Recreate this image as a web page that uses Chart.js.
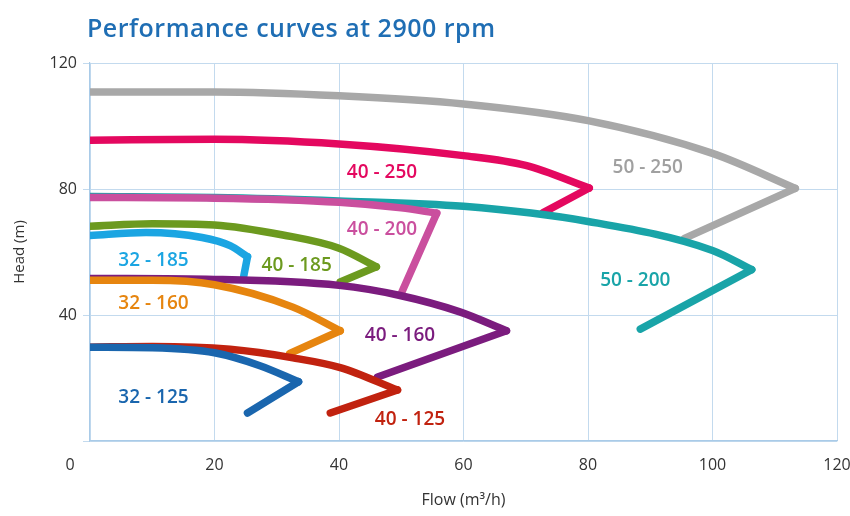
<!DOCTYPE html>
<html>
<head>
<meta charset="utf-8">
<script src="https://cdn.jsdelivr.net/npm/chart.js@4.4.1/dist/chart.umd.min.js"></script>
<style>
  html, body { margin: 0; padding: 0; background: #ffffff; }
  #wrap { width: 850px; height: 516px; position: relative; }
</style>
</head>
<body>
<div id="wrap"><canvas id="c" width="850" height="516"></canvas></div>
<script>
// ---------- DATA (flow m3/h, head m) ----------
const titleText = 'Performance curves at 2900 rpm';
const flowTicks = [0, 20, 40, 60, 80, 100, 120];
const headTicks = [0, 40, 80, 120];

const pumpNames = ['32 - 125', '40 - 125', '32 - 160', '40 - 160', '32 - 185',
                   '40 - 185', '40 - 200', '50 - 200', '40 - 250', '50 - 250'];

// main curve (rising flow) for each pump
const curve32_125 = [[0, 29.8], [10, 29.6], [20, 28.0], [27.3, 23.9], [33.5, 18.8]];
const curve40_125 = [[0, 29.8], [10, 30.0], [22.5, 29.1], [32.6, 26.4], [40.2, 23.3], [49.4, 16.2]];
const curve32_160 = [[0, 51.0], [10, 51.0], [20, 49.6], [32.6, 42.5], [40.2, 35.0]];
const curve40_160 = [[0, 51.6], [20, 51.3], [40, 49.4], [49.8, 46.2], [59.4, 41.0], [66.9, 35.0]];
const curve32_185 = [[0, 65.2], [9, 66.2], [18, 64.6], [22.5, 62.0], [25.3, 58.5]];
const curve40_185 = [[0, 68.2], [10, 69.0], [20, 68.6], [31, 65.4], [40, 61.2], [46, 55.3]];
const curve40_200 = [[0, 77.3], [20, 77.1], [40, 75.8], [50, 74.0], [55.7, 72.3]];
const curve50_200 = [[0, 77.6], [20, 77.3], [40, 76.2], [60, 74.5], [80, 69.7], [100, 60.5], [106.3, 54.4]];
const curve40_250 = [[0, 95.5], [20, 95.8], [40, 94.3], [60, 90.6], [70, 87.5], [80.2, 80.3]];
const curve50_250 = [[0, 110.8], [20, 110.8], [40, 109.6], [60, 107.0], [80, 101.7], [100, 91.3], [113.3, 80.2]];

// straight return leg from the tip of each curve
const return32_125 = [[33.5, 18.8], [25.3, 8.9]];
const return40_125 = [[49.4, 16.2], [38.6, 8.9]];
const return32_160 = [[40.2, 35.0], [32.1, 27.8]];
const return40_160 = [[66.9, 35.0], [46.2, 20.3]];
const return32_185 = [[25.3, 58.5], [24.7, 52.4]];
const return40_185 = [[46, 55.3], [40.2, 50.5]];
const return40_200 = [[55.7, 72.3], [50.1, 47.3]];
const return50_200 = [[106.3, 54.4], [88.4, 35.5]];
const return40_250 = [[80.2, 80.3], [72.8, 72.5]];
const return50_250 = [[113.3, 80.2], [95.5, 64.3]];

// label anchor for each pump name (flow, head)
const labelFlow = [10.2, 51.4, 10.2, 49.8, 10.2, 33.2, 46.9, 87.6, 46.9, 89.6];
const labelHead = [13.7, 6.7, 43.5, 33.4, 57.4, 55.8, 67.0, 51.0, 85.1, 86.7];

// ---------- STYLE ----------
const pumpColors = ['#1a66ae', '#c1220f', '#e6850f', '#7b1c7e', '#1ba5e2',
                    '#6c9a1f', '#ca4f9e', '#19a4a8', '#e4085f', '#a8a8a8'];
const labelColors = ['#1a66ae', '#c1220f', '#e6850f', '#7b1c7e', '#1ba5e2',
                     '#6c9a1f', '#ca4f9e', '#19a4a8', '#e4085f', '#a0a0a0'];
const curves = [curve32_125, curve40_125, curve32_160, curve40_160, curve32_185,
                curve40_185, curve40_200, curve50_200, curve40_250, curve50_250];
const returns = [return32_125, return40_125, return32_160, return40_160, return32_185,
                 return40_185, return40_200, return50_200, return40_250, return50_250];

const toXY = arr => arr.map(p => ({ x: p[0], y: p[1] }));
const datasets = [];
pumpNames.forEach((name, i) => {
  const common = {
    showLine: true, pointRadius: 0, pointHoverRadius: 0,
    borderColor: pumpColors[i], backgroundColor: pumpColors[i],
    borderWidth: 7.5, borderCapStyle: 'round', borderJoinStyle: 'round',
    order: i, fill: false
  };
  datasets.push(Object.assign({ label: name, data: toXY(curves[i]), cubicInterpolationMode: 'monotone' }, common));
  datasets.push(Object.assign({ label: name + ' return', data: toXY(returns[i]), tension: 0 }, common));
});

const gridColor = '#c3daee';
const axisColor = '#a9cbe8';

const extrasPlugin = {
  id: 'extras',
  afterDatasetsDraw(chart) {
    const { ctx, scales: { x, y } } = chart;
    ctx.save();
    ctx.font = '600 19px "Open Sans"';
    ctx.textAlign = 'center';
    ctx.textBaseline = 'middle';
    pumpNames.forEach((n, i) => {
      ctx.fillStyle = labelColors[i];
      ctx.fillText(n, x.getPixelForValue(labelFlow[i]), y.getPixelForValue(labelHead[i]));
    });
    ctx.restore();
  },
  afterDraw(chart) {
    const { ctx, scales: { x }, chartArea } = chart;
    ctx.save();
    ctx.font = '600 25px "Open Sans"';
    try { ctx.letterSpacing = '0.5px'; } catch (e) {}
    ctx.fillStyle = '#1f6eb4';
    ctx.textAlign = 'left';
    ctx.textBaseline = 'alphabetic';
    ctx.fillText(titleText, chartArea.left - 3, 37);
    try { ctx.letterSpacing = '0px'; } catch (e) {}
    // shared origin label
    ctx.font = '16px "Open Sans"';
    ctx.fillStyle = '#333333';
    ctx.textAlign = 'center';
    ctx.textBaseline = 'middle';
    ctx.fillText(String(flowTicks[0]), x.getPixelForValue(flowTicks[0]) - 20, chartArea.bottom + 24);
    ctx.restore();
  }
};

Chart.defaults.font.family = '"Open Sans", sans-serif';
Chart.defaults.color = '#333333';

new Chart(document.getElementById('c'), {
  type: 'scatter',
  data: { datasets },
  options: {
    responsive: false,
    animation: false,
    layout: { padding: { top: 63, right: 13, bottom: 0, left: 0 } },
    plugins: { legend: { display: false }, tooltip: { enabled: false }, title: { display: false } },
    scales: {
      x: {
        type: 'linear', min: flowTicks[0], max: flowTicks[flowTicks.length - 1],
        afterBuildTicks: s => { s.ticks = flowTicks.map(v => ({ value: v })); },
        afterFit: s => { s.height = 75; s.paddingLeft = 0; s.paddingRight = 0; },
        ticks: { font: { size: 16 }, color: '#333333', padding: 15,
                 callback: v => (v === 0 ? '' : v) },
        grid: { color: gridColor, lineWidth: 1, drawTicks: false },
        border: { color: axisColor, width: 1.2 },
        title: { display: true, text: 'Flow (m³/h)', font: { size: 16 }, color: '#333333',
                 padding: { top: 0, bottom: 6 } }
      },
      y: {
        type: 'linear', min: headTicks[0], max: headTicks[headTicks.length - 1],
        afterBuildTicks: s => { s.ticks = headTicks.map(v => ({ value: v })); },
        afterFit: s => { s.width = 90; s.paddingTop = 0; s.paddingBottom = 0; },
        ticks: { font: { size: 16 }, color: '#333333', padding: 6,
                 callback: v => (v === 0 ? '' : v) },
        grid: { color: gridColor, lineWidth: 1, tickLength: 7, drawTicks: true },
        border: { color: axisColor, width: 1.2 },
        title: { display: true, text: 'Head (m)', font: { size: 15 }, color: '#333333',
                 padding: { top: 11, bottom: 0 } }
      }
    }
  },
  plugins: [extrasPlugin]
});
</script>
</body>
</html>
